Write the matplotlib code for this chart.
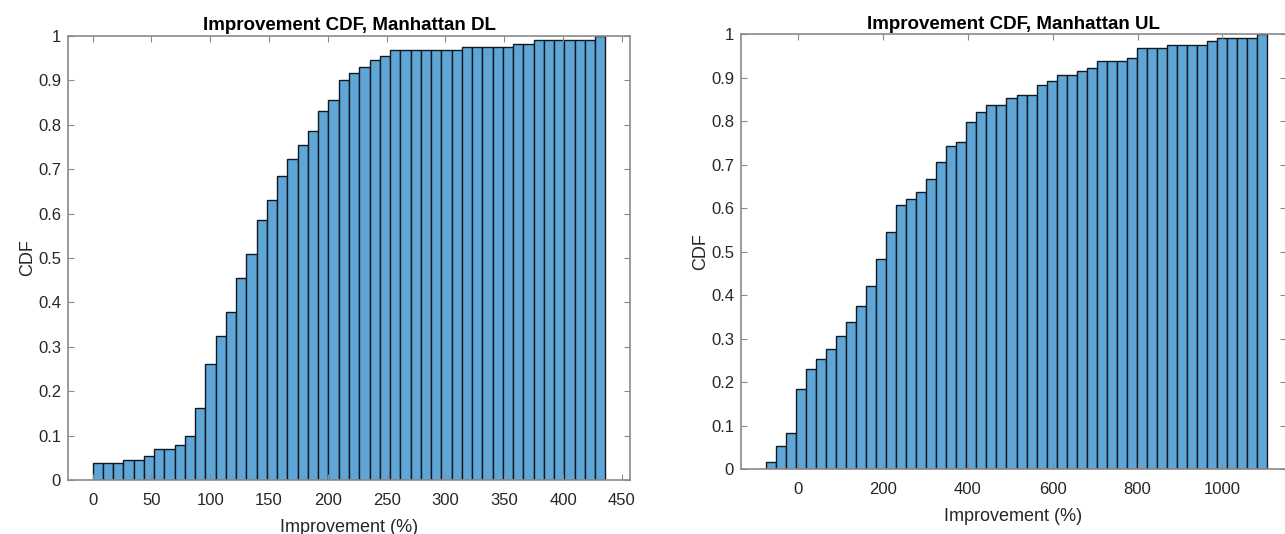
""" Improvement CDF histograms for Manhattan downlink / uplink. """

import numpy as np
import matplotlib.pyplot as plt
from matplotlib.ticker import FormatStrFormatter

# Downlink: 50 bins starting at 0 %
dl_bin_start = 0.0
dl_bin_width = 8.72
dl_cdf = [0.039, 0.039, 0.039, 0.046, 0.046, 0.055, 0.070, 0.070, 0.078, 0.100,
          0.163, 0.262, 0.325, 0.378, 0.455, 0.508, 0.585, 0.631, 0.685, 0.723,
          0.754, 0.786, 0.832, 0.855, 0.900, 0.916, 0.931, 0.946, 0.955, 0.969,
          0.969, 0.969, 0.969, 0.969, 0.969, 0.969, 0.976, 0.976, 0.976, 0.976,
          0.976, 0.983, 0.983, 0.991, 0.991, 0.991, 0.991, 0.991, 0.991, 1.000]

# Uplink: 50 bins starting at about -76 %
ul_bin_start = -76.0
ul_bin_width = 23.62
ul_cdf = [0.015, 0.054, 0.084, 0.184, 0.230, 0.253, 0.276, 0.307, 0.338, 0.376,
          0.422, 0.484, 0.546, 0.607, 0.622, 0.637, 0.668, 0.706, 0.744, 0.752,
          0.798, 0.821, 0.837, 0.837, 0.853, 0.860, 0.860, 0.884, 0.892, 0.907,
          0.907, 0.915, 0.922, 0.938, 0.938, 0.938, 0.945, 0.969, 0.969, 0.969,
          0.976, 0.976, 0.976, 0.976, 0.984, 0.992, 0.992, 0.992, 0.992, 1.000]

dl_xticks = [0, 50, 100, 150, 200, 250, 300, 350, 400, 450]
ul_xticks = [0, 200, 400, 600, 800, 1000]
yticks = [0, 0.1, 0.2, 0.3, 0.4, 0.5, 0.6, 0.7, 0.8, 0.9, 1]

FACE = '#5fa6d7'
AXIS_GREY = '#8a8a8a'
TEXT = '#262626'

plt.rcParams['font.family'] = ['Liberation Sans', 'DejaVu Sans']


def draw_cdf(ax, start, width, cdf, xticks, xlim, title):
    """ Draw the cumulative histogram bars and style the axes like MATLAB. """
    lefts = start + width * np.arange(len(cdf))
    ax.bar(lefts, cdf, width=width, align='edge', color=FACE,
           edgecolor='#101820', linewidth=1.0)
    ax.set_xlim(*xlim)
    ax.set_ylim(0, 1)
    ax.set_xticks(xticks)
    ax.set_yticks(yticks)
    ax.yaxis.set_major_formatter(FormatStrFormatter('%g'))
    ax.tick_params(direction='in', top=True, right=True, length=4,
                   width=0.8, color=AXIS_GREY, labelcolor=TEXT, labelsize=12)
    ax.tick_params(axis='x', pad=9)
    ax.tick_params(axis='y', pad=5)
    for spine in ax.spines.values():
        spine.set_color(AXIS_GREY)
        spine.set_linewidth(1.2)
    ax.set_title(title, fontsize=13.5, fontweight='bold', color='black', pad=4)
    ax.set_xlabel('Improvement (%)', fontsize=13, color=TEXT, labelpad=8)
    ax.set_ylabel('CDF', fontsize=13, color=TEXT, labelpad=1)


fig = plt.figure(figsize=(12.85, 5.34), dpi=100)
ax_dl = fig.add_axes([0.0529, 0.1011, 0.4374, 0.8315])
ax_ul = fig.add_axes([0.5767, 0.1217, 0.4241, 0.8137])

draw_cdf(ax_dl, dl_bin_start, dl_bin_width, dl_cdf, dl_xticks, (-21, 457),
         'Improvement CDF, Manhattan DL')
draw_cdf(ax_ul, ul_bin_start, ul_bin_width, ul_cdf, ul_xticks, (-135, 1150),
         'Improvement CDF, Manhattan UL')

fig.savefig('out.png', dpi=100)
